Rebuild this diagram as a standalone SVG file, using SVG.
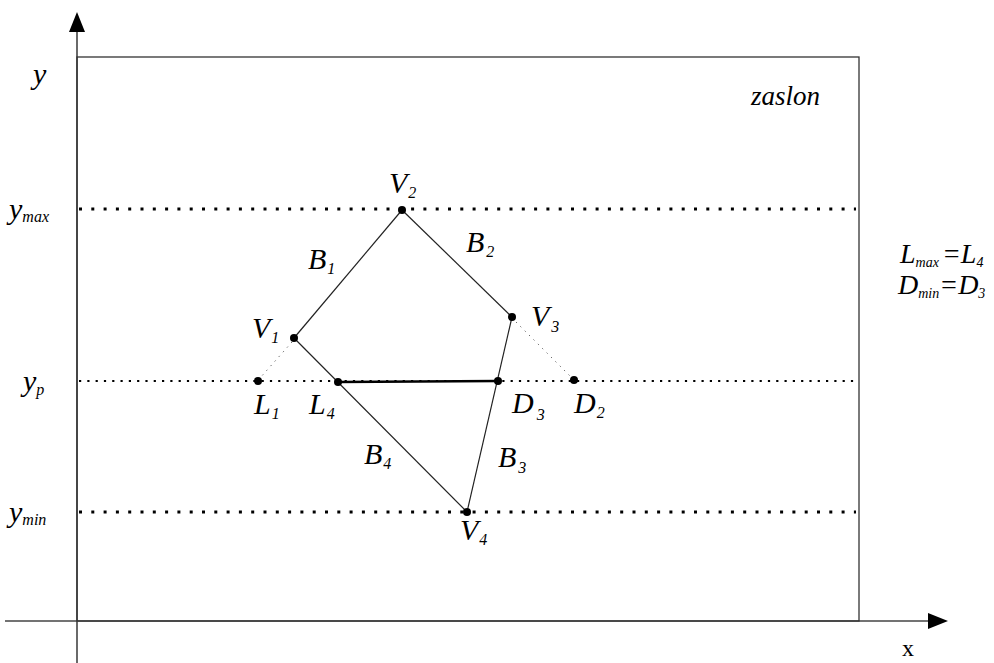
<svg xmlns="http://www.w3.org/2000/svg" width="994" height="663" viewBox="0 0 994 663">
<style>
text{font-family:'Liberation Serif','Times New Roman',serif}
.t{font-style:italic;fill:#000;font-size:30px}
.s{font-size:16px}
.ax{stroke:#444;stroke-width:1.6;fill:none}
.ln{stroke:#222;stroke-width:1.2;fill:none}
.big{stroke:#000;stroke-width:3;stroke-dasharray:3 9.3;fill:none}
.mid{stroke:#000;stroke-width:2.2;stroke-dasharray:2.2 6.1;fill:none}
.thin{stroke:#555;stroke-width:1;stroke-dasharray:1.2 5;fill:none}
.pt{fill:#000}
</style>
<rect width="994" height="663" fill="#fff"/>
<g id="axes">
<line class="ax" x1="77" y1="663" x2="77" y2="28"/>
<polygon points="77,12 69,32 85,32" fill="#000"/>
<line class="ax" x1="5" y1="621" x2="932" y2="621"/>
<polygon points="948,621 928,613 928,629" fill="#000"/>
<text x="902" y="656" font-family="Liberation Serif, serif" font-size="24">x</text>
<text class="t" x="33" y="84" font-family="Liberation Serif, serif">y</text>
</g>
<g id="zaslon">
<rect x="77" y="57" width="782" height="564" fill="none" stroke="#333" stroke-width="1.3"/>
<text class="t" x="751" y="105" font-family="Liberation Serif, serif" style="font-size:27px">zaslon</text>
</g>
<g id="guides">
<line class="big" x1="79" y1="209" x2="856" y2="209"/>
<line class="mid" x1="79" y1="381" x2="858" y2="381"/>
<line class="big" x1="79" y1="512" x2="856" y2="512"/>
<text class="t" x="9" y="219" font-family="Liberation Serif, serif">y<tspan class="s" dy="3">max</tspan></text>
<text class="t" x="23" y="391" font-family="Liberation Serif, serif">y<tspan class="s" dy="4">p</tspan></text>
<text class="t" x="9" y="522" font-family="Liberation Serif, serif">y<tspan class="s" dy="3">min</tspan></text>
</g>
<g id="connectors">
<line class="ln" x1="294" y1="338" x2="402" y2="210"/>
<line class="ln" x1="402" y1="210" x2="512" y2="317"/>
<line class="ln" x1="512" y1="317" x2="467" y2="512"/>
<line class="ln" x1="467" y1="512" x2="294" y2="338"/>
<line x1="338" y1="382" x2="498" y2="381" stroke="#000" stroke-width="2.4"/>
<line class="thin" x1="292" y1="342" x2="260" y2="378"/>
<line class="thin" x1="516" y1="322" x2="571" y2="377"/>
</g>
<g id="V1"><circle class="pt" cx="294" cy="338" r="4"/><text class="t" x="252" y="338" font-family="Liberation Serif, serif">V<tspan class="s" dx="1" dy="5">1</tspan></text></g>
<g id="V2"><circle class="pt" cx="402" cy="210" r="4"/><text class="t" x="389" y="193" font-family="Liberation Serif, serif">V<tspan class="s" dx="1" dy="5">2</tspan></text></g>
<g id="V3"><circle class="pt" cx="512" cy="317" r="4"/><text class="t" x="531" y="326" font-family="Liberation Serif, serif">V<tspan class="s" dx="2" dy="6">3</tspan></text></g>
<g id="V4"><circle class="pt" cx="467" cy="512" r="4"/><text class="t" x="460" y="540" font-family="Liberation Serif, serif">V<tspan class="s" dx="1" dy="5">4</tspan></text></g>
<g id="L1"><circle class="pt" cx="258" cy="381" r="4"/><text class="t" x="254" y="414" font-family="Liberation Serif, serif">L<tspan class="s" dx="1" dy="5">1</tspan></text></g>
<g id="L4"><circle class="pt" cx="338" cy="382" r="4"/><text class="t" x="309" y="414" font-family="Liberation Serif, serif">L<tspan class="s" dx="1" dy="5">4</tspan></text></g>
<g id="D3"><circle class="pt" cx="498" cy="381" r="4"/><text class="t" x="512" y="413" font-family="Liberation Serif, serif">D<tspan class="s" dx="3" dy="7">3</tspan></text></g>
<g id="D2"><circle class="pt" cx="574" cy="380" r="4"/><text class="t" x="574" y="413" font-family="Liberation Serif, serif">D<tspan class="s" dx="1" dy="5">2</tspan></text></g>
<g id="B1"><text class="t" x="308" y="269" font-family="Liberation Serif, serif">B<tspan class="s" dx="1" dy="5">1</tspan></text></g>
<g id="B2"><text class="t" x="466" y="252" font-family="Liberation Serif, serif">B<tspan class="s" dx="2" dy="5">2</tspan></text></g>
<g id="B3"><text class="t" x="498" y="467" font-family="Liberation Serif, serif">B<tspan class="s" dx="2" dy="6">3</tspan></text></g>
<g id="B4"><text class="t" x="364" y="464" font-family="Liberation Serif, serif">B<tspan class="s" dx="1" dy="5">4</tspan></text></g>
<g id="legend">
<text class="t" x="900" y="263" font-family="Liberation Serif, serif" style="font-size:28px">L<tspan class="s" style="font-size:14px" dy="4">max</tspan><tspan dx="3" dy="-4">=L</tspan><tspan class="s" style="font-size:14px" dy="4">4</tspan></text>
<text class="t" x="898" y="294" font-family="Liberation Serif, serif" style="font-size:28px">D<tspan class="s" style="font-size:14px" dy="4">min</tspan><tspan dy="-4">=D</tspan><tspan class="s" style="font-size:14px" dy="4">3</tspan></text>
</g>
</svg>
